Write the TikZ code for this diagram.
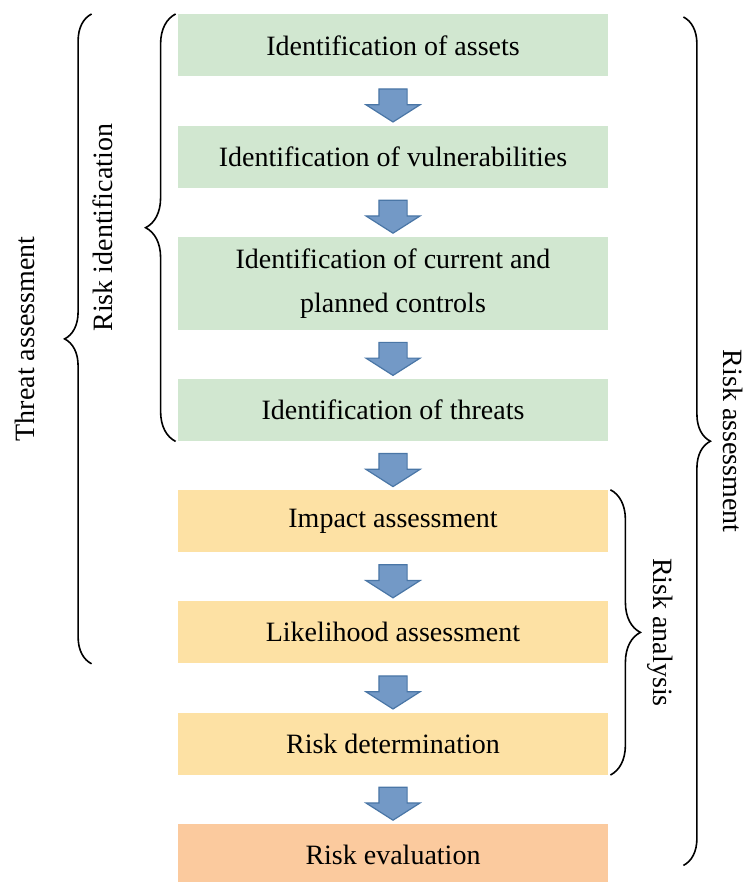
\documentclass[tikz,border=0pt]{standalone}
\usepackage{fontspec}
\setmainfont{Liberation Serif}
\usetikzlibrary{positioning, shapes.arrows, decorations.pathreplacing}

\definecolor{idgreen}{HTML}{D1E7D0}
\definecolor{anyellow}{HTML}{FDE1A4}
\definecolor{evorange}{HTML}{FBCA9E}
\definecolor{arrowfill}{HTML}{7399C6}
\definecolor{arrowdraw}{HTML}{4A76A6}

\tikzset{
	box/.style={minimum width=215pt, minimum height=31pt, inner sep=0pt, align=center, font=\fontsize{14}{22}\selectfont},
	flowarrow/.style={single arrow, shape border rotate=270, fill=arrowfill, draw=arrowdraw, line width=0.6pt,
		minimum height=16.5pt, inner xsep=6.75pt, inner ysep=0pt, single arrow head extend=6.5pt,
		single arrow tip angle=115},
	brace/.style={decorate, decoration={brace, amplitude=#1}, line width=0.8pt},
	bracelabel/.style={font=\fontsize{14}{16}\selectfont}
}

\begin{document}
\begin{tikzpicture}
	\useasboundingbox (0,0) rectangle (372pt,-441pt);

	\node[box, fill=idgreen, anchor=north] (b1) at (196.5pt,-7pt) {Identification of assets};
	\node[box, fill=idgreen, below=24.2pt of b1] (b2) {Identification of vulnerabilities};
	\node[box, fill=idgreen, below=24.2pt of b2, minimum height=46.5pt] (b3) {Identification of current and\\planned controls};
	\node[box, fill=idgreen, below=24.2pt of b3] (b4) {Identification of threats};
	\node[box, fill=anyellow, below=24.2pt of b4] (b5) {Impact assessment};
	\node[box, fill=anyellow, below=24.2pt of b5] (b6) {Likelihood assessment};
	\node[box, fill=anyellow, below=24.2pt of b6] (b7) {Risk determination};
	\node[box, fill=evorange, below=24.2pt of b7] (b8) {Risk evaluation};

	\path
		(b1) -- node[flowarrow] (a1) {} (b2)
		(b2) -- node[flowarrow] (a2) {} (b3)
		(b3) -- node[flowarrow] (a3) {} (b4)
		(b4) -- node[flowarrow] (a4) {} (b5)
		(b5) -- node[flowarrow] (a5) {} (b6)
		(b6) -- node[flowarrow] (a6) {} (b7)
		(b7) -- node[flowarrow] (a7) {} (b8)
		;

	\draw[brace=15pt] ([xshift=-1pt]b4.south west) -- node[midway, rotate=90, yshift=36.5pt, bracelabel] (lri) {Risk identification} ([xshift=-1pt]b1.north west);
	\draw[brace=13.5pt] ([xshift=-43pt]b6.south west) -- node[midway, rotate=90, yshift=33.5pt, bracelabel] (lta) {Threat assessment} ([xshift=-43pt]b1.north west);
	\draw[brace=15pt] ([xshift=1pt]b5.north east) -- node[midway, rotate=-90, yshift=25pt, bracelabel] (lra) {Risk analysis} ([xshift=1pt]b7.south east);
	\draw[brace=13.5pt] ([xshift=37.5pt, yshift=-1.5pt]b1.north east) -- node[midway, rotate=-90, yshift=25pt, bracelabel] (lrs) {Risk assessment} ([xshift=37.5pt, yshift=-21pt]b8.north east);
\end{tikzpicture}
\end{document}
